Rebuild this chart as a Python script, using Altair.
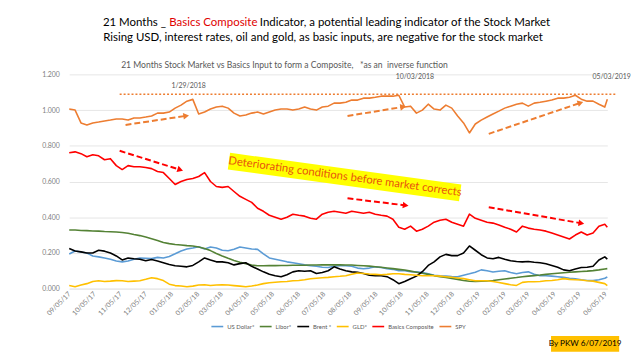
import altair as alt
import pandas as pd

# ---------------- data ----------------
dates = list(pd.date_range("2017-09-05", periods=92, freq="7D")) + [pd.Timestamp("2019-06-07")]

series_names = ["US Dollar*", "Libor*", "Brent *", "GLD*", "Basics Composite", "SPY"]
series_colors = ["#5B9BD5", "#548235", "#000000", "#FFC000", "#FF0000", "#ED7D31"]
series_widths = [1.6, 1.6, 2.0, 1.6, 2.0, 1.6]

us_dollar = [0.194, 0.211, 0.205, 0.2, 0.183, 0.178, 0.172, 0.165, 0.155, 0.15,
             0.155, 0.165, 0.172, 0.17, 0.168, 0.175, 0.172, 0.18, 0.195, 0.211,
             0.222, 0.228, 0.235, 0.222, 0.233, 0.228, 0.215, 0.212, 0.22, 0.233,
             0.228, 0.222, 0.22, 0.195, 0.172, 0.165, 0.158, 0.15, 0.145, 0.139,
             0.133, 0.128, 0.125, 0.12, 0.118, 0.125, 0.128, 0.128, 0.125, 0.115,
             0.111, 0.115, 0.122, 0.118, 0.111, 0.108, 0.1, 0.1, 0.095, 0.094,
             0.09, 0.083, 0.075, 0.072, 0.07, 0.068, 0.067, 0.075, 0.083, 0.092,
             0.105, 0.1, 0.093, 0.097, 0.1, 0.09, 0.083, 0.09, 0.094, 0.08,
             0.072, 0.072, 0.07, 0.067, 0.063, 0.058, 0.055, 0.05, 0.046, 0.045,
             0.05, 0.058, 0.065]
libor = [0.328, 0.328, 0.326, 0.325, 0.323, 0.322, 0.32, 0.319, 0.317, 0.314,
         0.31, 0.303, 0.297, 0.289, 0.28, 0.27, 0.258, 0.252, 0.247, 0.244,
         0.241, 0.239, 0.233, 0.225, 0.213, 0.197, 0.183, 0.17, 0.158, 0.148,
         0.14, 0.132, 0.128, 0.128, 0.129, 0.129, 0.13, 0.13, 0.131, 0.131,
         0.131, 0.132, 0.132, 0.133, 0.133, 0.133, 0.133, 0.132, 0.132, 0.13,
         0.128, 0.126, 0.123, 0.12, 0.116, 0.112, 0.108, 0.104, 0.098, 0.092,
         0.086, 0.08, 0.073, 0.067, 0.062, 0.057, 0.052, 0.046, 0.041, 0.04,
         0.041, 0.043, 0.046, 0.05, 0.054, 0.058, 0.062, 0.067, 0.07, 0.073,
         0.076, 0.08, 0.083, 0.086, 0.089, 0.092, 0.094, 0.096, 0.098, 0.101,
         0.105, 0.11, 0.112]
brent = [0.225, 0.211, 0.206, 0.2, 0.2, 0.215, 0.21, 0.2, 0.183, 0.161,
         0.172, 0.167, 0.165, 0.156, 0.163, 0.155, 0.145, 0.135, 0.128, 0.125,
         0.122, 0.13, 0.15, 0.172, 0.16, 0.15, 0.15, 0.145, 0.133, 0.14,
         0.145, 0.125, 0.11, 0.094, 0.08, 0.072, 0.067, 0.078, 0.094, 0.1,
         0.097, 0.1, 0.085, 0.09, 0.1, 0.122, 0.11, 0.1, 0.094, 0.092,
         0.085, 0.075, 0.072, 0.072, 0.067, 0.05, 0.028, 0.04, 0.055, 0.07,
         0.095, 0.13, 0.15, 0.178, 0.192, 0.185, 0.185, 0.2, 0.239, 0.215,
         0.19, 0.172, 0.167, 0.175, 0.165, 0.156, 0.152, 0.15, 0.152, 0.148,
         0.145, 0.139, 0.13, 0.12, 0.105, 0.1, 0.11, 0.118, 0.12, 0.125,
         0.16, 0.178, 0.165]
gld = [0.017, 0.011, 0.02, 0.028, 0.04, 0.044, 0.04, 0.042, 0.045, 0.044,
       0.04, 0.042, 0.044, 0.052, 0.061, 0.056, 0.045, 0.025, 0.017, 0.015,
       0.011, 0.014, 0.02, 0.022, 0.018, 0.02, 0.022, 0.02, 0.017, 0.014,
       0.011, 0.015, 0.02, 0.028, 0.033, 0.036, 0.039, 0.04, 0.044, 0.046,
       0.05, 0.055, 0.058, 0.061, 0.063, 0.067, 0.069, 0.072, 0.08, 0.088,
       0.085, 0.082, 0.08, 0.078, 0.08, 0.083, 0.083, 0.08, 0.078, 0.075,
       0.072, 0.072, 0.072, 0.07, 0.067, 0.064, 0.06, 0.056, 0.05, 0.044,
       0.044, 0.044, 0.04, 0.034, 0.028, 0.022, 0.018, 0.035, 0.039, 0.039,
       0.04, 0.044, 0.046, 0.05, 0.056, 0.052, 0.05, 0.048, 0.044, 0.042,
       0.035, 0.028, 0.017]
basics = [0.761, 0.766, 0.756, 0.739, 0.75, 0.744, 0.722, 0.728, 0.689, 0.667,
          0.689, 0.683, 0.683, 0.678, 0.672, 0.656, 0.65, 0.617, 0.583, 0.6,
          0.611, 0.617, 0.628, 0.65, 0.6, 0.572, 0.567, 0.572, 0.544, 0.517,
          0.5, 0.483, 0.45, 0.433, 0.411, 0.4, 0.389, 0.4, 0.417, 0.411,
          0.406, 0.394, 0.389, 0.417, 0.428, 0.433, 0.428, 0.422, 0.433, 0.428,
          0.422, 0.428, 0.417, 0.411, 0.406, 0.389, 0.344, 0.333, 0.35, 0.322,
          0.333, 0.35, 0.372, 0.383, 0.389, 0.372, 0.361, 0.35, 0.417, 0.394,
          0.383, 0.372, 0.367, 0.356, 0.344, 0.333, 0.317, 0.35, 0.339, 0.333,
          0.328, 0.322, 0.311, 0.3, 0.289, 0.278, 0.3, 0.317, 0.3, 0.311,
          0.35, 0.361, 0.344]
spy = [1.006, 1.0, 0.928, 0.917, 0.928, 0.933, 0.939, 0.944, 0.95, 0.95,
       0.944, 0.956, 0.956, 0.961, 0.967, 0.983, 0.983, 0.989, 1.011, 1.028,
       1.05, 1.06, 0.978, 0.989, 1.006, 1.017, 1.022, 1.011, 0.983, 0.967,
       0.972, 0.983, 0.989, 0.978, 0.989, 1.0, 1.006, 1.006, 1.0, 1.006,
       1.017, 1.006, 1.0, 1.017, 1.022, 1.039, 1.039, 1.044, 1.056, 1.056,
       1.067, 1.067, 1.072, 1.078, 1.078, 1.078, 1.083, 1.017, 1.022, 0.983,
       1.0, 1.033, 1.006, 1.0, 1.028, 1.011, 0.967, 0.928, 0.872, 0.922,
       0.944, 0.961, 0.978, 0.994, 1.011, 1.022, 1.033, 1.039, 1.022, 1.039,
       1.044, 1.05, 1.056, 1.067, 1.067, 1.072, 1.083, 1.061, 1.05, 1.05,
       1.033, 1.017, 1.061]

y_ticks = [0.0, 0.2, 0.4, 0.6, 0.8, 1.0, 1.2]

# annotations (data coordinates)
high_level = 1.089
high_start = "2017-11-04"
high_end = "2019-06-18"

arrow_start = ["2017-11-11", "2018-08-02", "2019-01-17", "2017-11-04", "2018-08-02", "2019-01-17"]
arrow_end = ["2018-01-21", "2018-10-06", "2019-05-05", "2018-01-14", "2018-10-09", "2019-05-06"]
arrow_y0 = [0.917, 0.967, 0.867, 0.772, 0.506, 0.456]
arrow_y1 = [0.967, 1.017, 1.039, 0.667, 0.467, 0.367]
arrow_col = ["#ED7D31"] * 3 + ["#FF0000"] * 3
arrow_ang = [81.5, 80.9, 71.4, 107.6, 96.9, 99.8]

peak_labels = ["1/29/2018", "10/03/2018", "05/03/2019"]
peak_dates = ["2018-01-25", "2018-10-21", "2019-06-12"]
peak_vals = [1.133, 1.183, 1.183]

note_text = "Deteriorating conditions before market corrects"
note_band = {"x": "2018-03-14", "x2": "2018-12-14", "y": 0.714, "y2": 0.536}
note_pos = {"date": "2018-07-30", "value": 0.625}

# ---------------- build ----------------
rows = []
for name, vals in zip(series_names, [us_dollar, libor, brent, gld, basics, spy]):
    for d, v in zip(dates, vals):
        rows.append({"date": d, "series": name, "value": v})
df = pd.DataFrame(rows)

W, H = 545, 217
FONT = "Lato"
month_ticks = [alt.DateTime(year=d.year, month=d.month, date=5)
               for d in pd.date_range("2017-09-01", "2019-06-01", freq="MS")]
xscale = alt.Scale(domain=[alt.DateTime(year=2017, month=9, date=5),
                           alt.DateTime(year=2019, month=6, date=7)])
yscale = alt.Scale(domain=[0, 1.2])

lines = alt.Chart(df).mark_line(strokeJoin="round").encode(
    x=alt.X("date:T", scale=xscale, title=None,
            axis=alt.Axis(values=month_ticks, tickCount=40, format="%m/%d/%y", labelAngle=-45,
                          labelAlign="right", labelBaseline="middle", labelFontSize=7,
                          labelColor="#7F7F7F", labelFont=FONT, ticks=False, grid=False,
                          domainColor="#E6E6E6", labelPadding=4, labelOverlap=False,
                          labelBound=False, labelFlush=False)),
    y=alt.Y("value:Q", scale=yscale, title=None,
            axis=alt.Axis(values=y_ticks, tickCount=20, format=".3f", labelFontSize=7,
                          labelColor="#7F7F7F", labelFont=FONT, ticks=False, domain=False,
                          gridColor="#E6E6E6", labelPadding=10, labelOverlap=False)),
    color=alt.Color("series:N", scale=alt.Scale(domain=series_names, range=series_colors),
                    sort=series_names,
                    legend=alt.Legend(orient="none", legendX=143, legendY=248, direction="horizontal",
                                      title=None, symbolType="stroke", symbolStrokeWidth=2,
                                      symbolSize=144, labelFontSize=6, labelColor="#595959",
                                      labelFont=FONT, columnPadding=1, labelOffset=3)),
    strokeWidth=alt.StrokeWidth("series:N", scale=alt.Scale(domain=series_names, range=series_widths),
                                legend=None),
)

NOAX = dict(title=None)

dot_df = pd.DataFrame({"start": [pd.Timestamp(high_start)], "end": [pd.Timestamp(high_end)],
                       "level": [high_level]})
dotted = alt.Chart(dot_df).mark_rule(color="#ED7D31", strokeDash=[2, 2], strokeWidth=1.5).encode(
    x=alt.X("start:T", **NOAX), x2="end:T", y=alt.Y("level:Q", **NOAX))

arr_df = pd.DataFrame({"s": pd.to_datetime(arrow_start), "e": pd.to_datetime(arrow_end),
                       "y0": arrow_y0, "y1": arrow_y1, "c": arrow_col, "a": arrow_ang})
arr_lines = alt.Chart(arr_df).mark_rule(strokeDash=[6, 3], strokeWidth=2).encode(
    x=alt.X("s:T", **NOAX), x2="e:T", y=alt.Y("y0:Q", **NOAX), y2="y1:Q",
    color=alt.Color("c:N", scale=None))
arr_heads = alt.Chart(arr_df).mark_point(shape="triangle", filled=True, size=45, opacity=1).encode(
    x=alt.X("e:T", **NOAX), y=alt.Y("y1:Q", **NOAX),
    color=alt.Color("c:N", scale=None), angle=alt.Angle("a:Q", scale=None))

peak_df = pd.DataFrame({"t": peak_labels, "d": pd.to_datetime(peak_dates), "v": peak_vals})
peaks = alt.Chart(peak_df).mark_text(fontSize=7, color="#595959", font=FONT).encode(
    x=alt.X("d:T", **NOAX), y=alt.Y("v:Q", **NOAX), text="t:N")

band_df = pd.DataFrame({"x": [pd.Timestamp(note_band["x"])], "x2": [pd.Timestamp(note_band["x2"])],
                        "y": [note_band["y"]], "y2": [note_band["y2"]]})
band = alt.Chart(band_df).mark_rule(color="#FFFF00", strokeWidth=17, strokeCap="butt").encode(
    x=alt.X("x:T", **NOAX), x2="x2:T", y=alt.Y("y:Q", **NOAX), y2="y2:Q")
note_df = pd.DataFrame({"d": [pd.Timestamp(note_pos["date"])], "v": [note_pos["value"]], "t": [note_text]})
note = alt.Chart(note_df).mark_text(fontSize=11.4, color="#E8540E", font=FONT, angle=7.8).encode(
    x=alt.X("d:T", **NOAX), y=alt.Y("v:Q", **NOAX), text="t:N")

one = pd.DataFrame({"k": [0]})


def label(txt, x, y, size, color="#000000", align="center", weight="normal"):
    return alt.Chart(one).mark_text(fontSize=size, color=color, align=align, baseline="middle",
                                    font=FONT, fontWeight=weight).encode(
        x=alt.value(x), y=alt.value(y), text=alt.value(txt))


NB = "\u00a0"
TS = 11.6
t1a = label("21 Months _", 98, -52, TS, align="right")
t1b = label("Basics Composite", 146, -52, TS, color="#E00000")
t1c = label("Indicator, a potential leading indicator of the Stock Market", 193, -52, TS, align="left")
t2 = label("Rising USD, interest rates, oil and gold, as basic inputs, are negative for the stock market",
           257, -37, TS)
sub = label("21 Months Stock Market vs Basics Input to form a Composite," + NB * 3 + "*as an" + NB * 2
            + "inverse function", 218, -9, 8.7, color="#595959")

box = alt.Chart(one).mark_rect(color="#FFC000").encode(
    x=alt.value(488), x2=alt.value(557), y=alt.value(265), y2=alt.value(281))
box_text = label("By PKW 6/07/2019", 522.5, 273, 8.3)

chart = alt.layer(lines, dotted, arr_lines, arr_heads, peaks, band, note,
                  t1a, t1b, t1c, t2, sub, box, box_text).properties(
    width=W, height=H,
    autosize=alt.AutoSizeParams(type="none"),
    padding={"left": 62, "top": 65, "right": 25, "bottom": 66},
    background="white",
).configure_view(stroke=None).configure_axisX(labelOverlap=False)

chart.save("out.html", embed_options={"renderer": "svg", "actions": False})
